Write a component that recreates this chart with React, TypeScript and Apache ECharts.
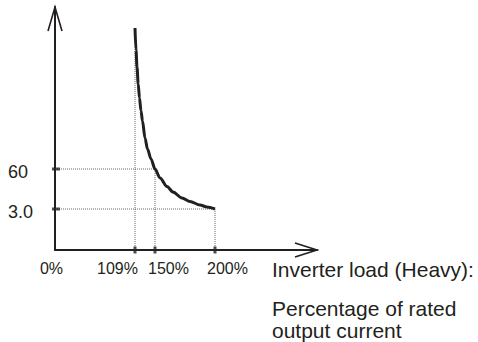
import React, { useEffect, useRef } from 'react';
import * as echarts from 'echarts';

// ---- Data (schematic axis units, as drawn in the reference) ----
const xTickPositions = [0, 80, 100, 160];
const xTickLabels = ['0%', '109%', '150%', '200%'];
const yTickPositions = [41, 81];
const yTickLabels = ['3.0', '60'];
// overload curve: [load position, time position]
const curvePoints = [
  [80, 222], [81, 200], [82, 183], [83.2, 166], [84.5, 152], [86, 139],
  [87.5, 129], [90, 112], [92.5, 101], [96, 91], [100, 81], [105, 72],
  [112, 63.5], [118, 58], [127, 52], [135, 48.5], [145, 45], [152, 43], [160, 41],
];
// vertical guides: [x, top y]; horizontal guides: [y, right x]
const guideVertical = [[80, 222], [100, 81], [160, 41]];
const guideHorizontal = [[81, 100], [41, 160]];
const xAxisNameLines = ['Inverter load (Heavy):', 'Percentage of rated', 'output current'];

// ---- Layout / style ----
const X_MAX = 262;
const Y_MAX = 243;
const INK = '#231f20';
const FONT = '"Liberation Sans", Arial, sans-serif';
const xLabelPadding: Record<string, number[]> = {
  '0%': [0, 7, 0, 0],
  '109%': [0, 35, 0, 0],
  '150%': [0, 0, 0, 27],
  '200%': [0, 0, 0, 25],
};

export default function App() {
  const ref = useRef<HTMLDivElement>(null);

  useEffect(() => {
    if (!ref.current) return;
    const chart = echarts.init(ref.current, null, { renderer: 'svg' });

    const xRich: Record<string, any> = {};
    xTickLabels.forEach((t, i) => {
      xRich['l' + i] = { fontSize: 16, fontFamily: FONT, color: INK, padding: xLabelPadding[t] };
    });

    const series: any[] = [];
    guideVertical.forEach(([x, y]) => {
      series.push({
        type: 'line', data: [[x, 0], [x, y]], symbol: 'none', silent: true,
        lineStyle: { color: '#666', width: 1, type: [1, 1] }, z: 1,
      });
    });
    guideHorizontal.forEach(([y, x]) => {
      series.push({
        type: 'line', data: [[0, y], [x, y]], symbol: 'none', silent: true,
        lineStyle: { color: '#666', width: 1, type: [1, 1] }, z: 1,
      });
    });
    series.push({
      type: 'line', data: curvePoints, smooth: 0.3, smoothMonotone: 'x', symbol: 'none', showSymbol: false,
      lineStyle: { color: INK, width: 3 }, z: 3,
    });
    series.push({
      type: 'scatter', data: xTickPositions.filter((v) => v !== 0).map((v) => [v, 0]),
      symbol: 'rect', symbolSize: [3, 7], itemStyle: { color: INK }, clip: false, z: 4,
    });
    series.push({
      type: 'scatter', data: yTickPositions.map((v) => [0, v]),
      symbol: 'rect', symbolSize: [8, 3], symbolOffset: [1, 0], itemStyle: { color: INK }, clip: false, z: 4,
    });

    chart.setOption({
      animation: false,
      grid: { left: 55, top: 7, width: X_MAX, height: Y_MAX, containLabel: false },
      xAxis: {
        type: 'value', min: 0, max: X_MAX,
        axisLine: { show: true, onZero: false, lineStyle: { color: INK, width: 2 } },
        axisTick: { show: false },
        splitLine: { show: false },
        axisLabel: {
          customValues: xTickPositions,
          margin: 10,
          fontSize: 16,
          fontFamily: FONT,
          color: INK,
          formatter: (v: number) => {
            const i = xTickPositions.indexOf(v);
            return i < 0 ? '' : `{l${i}|${xTickLabels[i]}}`;
          },
          rich: xRich,
        },
      },
      yAxis: {
        type: 'value', min: 0, max: Y_MAX,
        axisLine: { show: true, onZero: false, lineStyle: { color: INK, width: 2 } },
        axisTick: { show: false },
        splitLine: { show: false },
        axisLabel: {
          customValues: yTickPositions,
          align: 'left',
          margin: 47,
          fontSize: 18,
          fontFamily: FONT,
          color: INK,
          formatter: (v: number) => {
            const i = yTickPositions.indexOf(v);
            return i < 0 ? '' : `{a|${yTickLabels[i]}}`;
          },
          rich: { a: { fontSize: 18, fontFamily: FONT, color: INK, padding: [5, 0, 0, 0] } },
        },
      },
      series,
    });

    const xe = chart.convertToPixel({ gridIndex: 0 }, [X_MAX, 0]) as number[];
    const ye = chart.convertToPixel({ gridIndex: 0 }, [0, Y_MAX]) as number[];
    chart.setOption({
      graphic: [
        {
          type: 'polyline', z: 10,
          shape: { points: [[xe[0] - 22, xe[1] - 7], [xe[0], xe[1]], [xe[0] - 22, xe[1] + 7]] },
          style: { stroke: INK, lineWidth: 1.6, fill: null },
        },
        {
          type: 'polyline', z: 10,
          shape: { points: [[ye[0] - 7, ye[1] + 24], [ye[0], ye[1]], [ye[0] + 7, ye[1] + 24]] },
          style: { stroke: INK, lineWidth: 1.6, fill: null },
        },
        {
          type: 'text', x: 272, y: 259, z: 10,
          style: { text: xAxisNameLines[0], fontSize: 21, fontFamily: FONT, fill: INK, verticalAlign: 'top' },
        },
        {
          type: 'text', x: 272, y: 297, z: 10,
          style: {
            text: xAxisNameLines.slice(1).join('\n'), fontSize: 21, lineHeight: 22,
            fontFamily: FONT, fill: INK, verticalAlign: 'top',
          },
        },
      ],
    });

    return () => chart.dispose();
  }, []);

  return (
    <div
      ref={ref}
      style={{ position: 'absolute', left: 0, top: 0, width: 478, height: 342, background: '#fff' }}
    />
  );
}
